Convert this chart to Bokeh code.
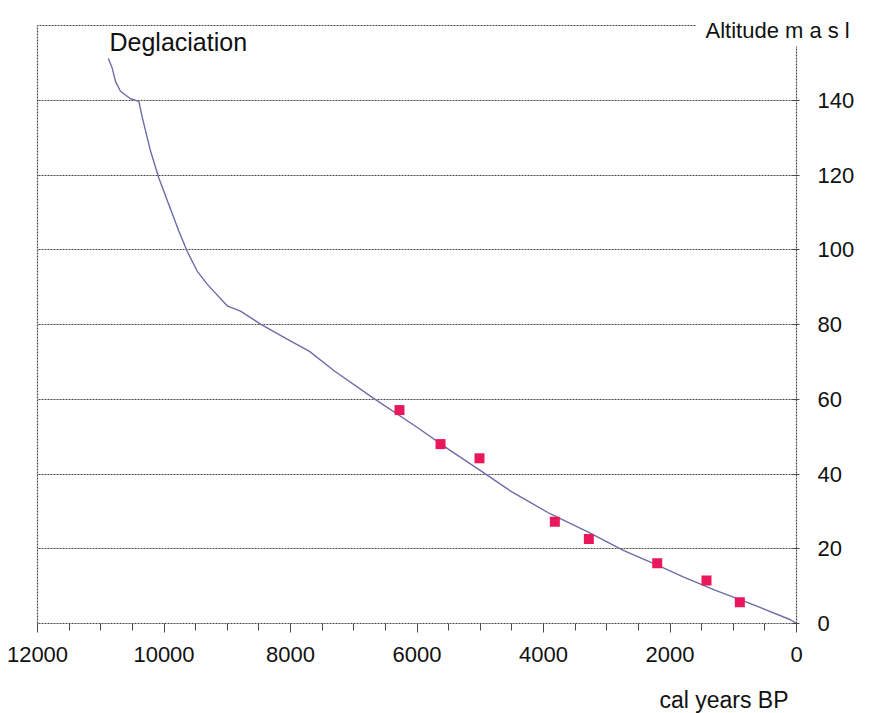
from bokeh.plotting import figure
from bokeh.models import Range1d, LinearAxis, FixedTicker, Label, SingleIntervalTicker
from bokeh.embed import file_html
from bokeh.resources import INLINE

# Shore displacement curve (cal years BP, altitude m a.s.l.)
curve_years = [10880, 10819, 10766, 10688, 10530, 10398, 10342, 10213, 10082, 9924,
               9766, 9634, 9476, 9318, 9002, 8791, 8474, 8053, 7700, 7300, 6708,
               6000, 5500, 4996, 4500, 3889, 3300, 2730, 2200, 1782, 1300, 727, 95, 0]
curve_alt = [151.2, 148.6, 145.0, 142.4, 140.4, 139.7, 135.3, 126.4, 119.2, 112.1,
             105.0, 99.6, 94.3, 90.8, 85.0, 83.6, 80.1, 76.1, 72.8, 67.5, 60.5,
             52.5, 46.6, 40.9, 35.2, 29.3, 24.5, 19.5, 15.6, 12.4, 9.0, 5.3, 1.0, 0.0]

# Dated samples
sample_years = [6277, 5628, 5012, 3821, 3283, 2202, 1423, 896]
sample_alt = [57.1, 48.0, 44.2, 27.2, 22.6, 16.1, 11.5, 5.7]

x_ticks = [12000, 10000, 8000, 6000, 4000, 2000, 0]
y_ticks = [0, 20, 40, 60, 80, 100, 120, 140]

FONT = "Liberation Sans"
TXT = "#111111"
GRID = "#4a4a4a"

p = figure(frame_width=759, frame_height=598,
           x_range=Range1d(12000, 0), y_range=Range1d(0, 160),
           x_axis_location=None, y_axis_location=None,
           output_backend="svg", toolbar_location=None,
           min_border_left=37, min_border_right=74,
           min_border_top=25, min_border_bottom=90)
p.outline_line_color = None
p.background_fill_color = "white"
p.border_fill_color = "white"

# bottom axis
xa = LinearAxis(ticker=SingleIntervalTicker(interval=2000, num_minor_ticks=4))
xa.axis_line_color = GRID
xa.axis_line_dash = "2 1"
xa.axis_line_width = 1.2
xa.major_tick_line_color = GRID
xa.minor_tick_line_color = GRID
xa.major_tick_in = 0
xa.major_tick_out = 9
xa.minor_tick_in = 0
xa.minor_tick_out = 7
xa.major_label_standoff = 14
xa.major_label_text_font = FONT
xa.major_label_text_font_size = "22px"
xa.major_label_text_color = TXT
p.add_layout(xa, "below")

# right axis
ya = LinearAxis(ticker=FixedTicker(ticks=y_ticks), bounds=(0, 154.5))
ya.axis_line_color = GRID
ya.axis_line_dash = "2 1"
ya.axis_line_width = 1.2
ya.major_tick_line_color = GRID
ya.major_tick_in = 5
ya.major_tick_out = 3
ya.minor_tick_line_color = None
ya.major_label_standoff = 18
ya.major_label_text_font = FONT
ya.major_label_text_font_size = "22px"
ya.major_label_text_color = TXT
p.add_layout(ya, "right")


def frame_edge(bounds=None):
    ax = LinearAxis(ticker=FixedTicker(ticks=[]))
    if bounds is not None:
        ax.bounds = bounds
    ax.axis_line_color = GRID
    ax.axis_line_dash = "2 1"
    ax.axis_line_width = 1.2
    ax.major_label_text_font_size = "0px"
    ax.major_label_standoff = 0
    ax.major_tick_in = 0
    ax.major_tick_out = 0
    ax.minor_tick_in = 0
    ax.minor_tick_out = 0
    ax.major_tick_line_color = None
    ax.minor_tick_line_color = None
    return ax


p.add_layout(frame_edge(), "left")
# top frame line stops before the y-axis title
p.add_layout(frame_edge(bounds=(1600, 12000)), "above")

p.xgrid.grid_line_color = None
p.ygrid.ticker = FixedTicker(ticks=y_ticks)
p.ygrid.grid_line_color = GRID
p.ygrid.grid_line_dash = "2 1"
p.ygrid.grid_line_width = 1.2

p.line(curve_years, curve_alt, line_color="#6c6ca8", line_width=1.4)
p.scatter(sample_years, sample_alt, marker="square", size=10,
          fill_color="#e8185a", line_color=None)

p.add_layout(Label(x=10862, y=155.6, text="Deglaciation", text_font=FONT,
                   text_font_size="25px", text_color=TXT,
                   text_align="left", text_baseline="middle"))
# labels placed in side panels so they are not clipped to the frame
p.add_layout(Label(x=1439, y=158.7, text="Altitude m a s l", text_font=FONT,
                   text_font_size="22px", text_color=TXT,
                   text_align="left", text_baseline="middle"), "above")
p.add_layout(Label(x=126, y=-20.4, text="cal years BP", text_font=FONT,
                   text_font_size="23px", text_color=TXT,
                   text_align="right", text_baseline="middle"), "below")

open("out.html", "w").write(file_html(p, INLINE))
